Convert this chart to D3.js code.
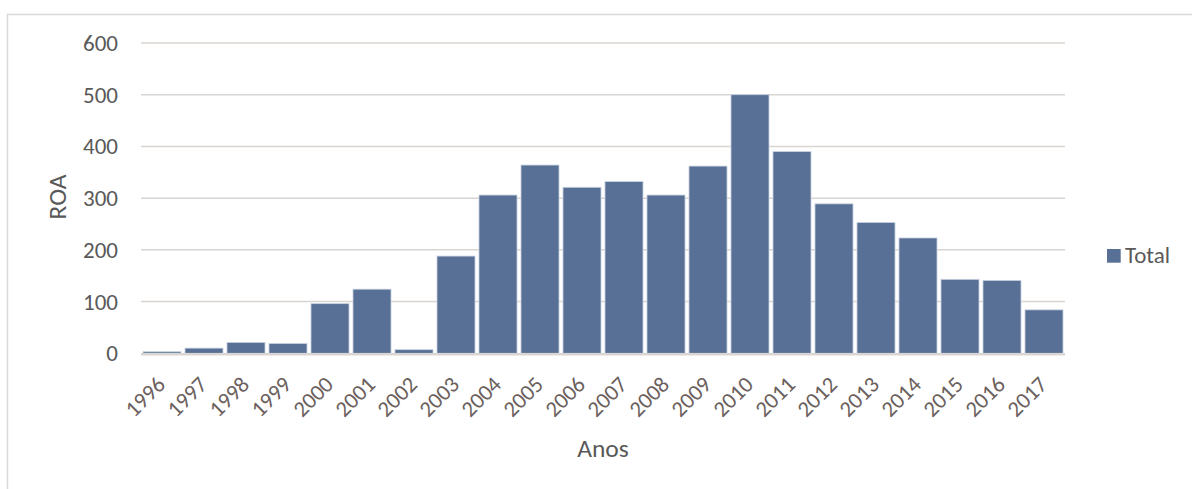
<!DOCTYPE html>
<html><head><meta charset="utf-8">
<script src="https://cdn.jsdelivr.net/npm/d3@7"></script>
<style>body{margin:0;background:#fff}svg{display:block}</style>
</head><body>
<script>
const categories = ["1996","1997","1998","1999","2000","2001","2002","2003","2004","2005","2006","2007","2008","2009","2010","2011","2012","2013","2014","2015","2016","2017"];
const totals = [3,10,21,19,96,124,7,188,306,364,321,332,306,362,500,390,289,253,223,143,141,84];
const yTicks = [0,100,200,300,400,500,600];
const seriesName = "Total";
const xTitle = "Anos", yTitle = "ROA";

const W = 1192, H = 489;
const font = "Carlito, Calibri, 'Open Sans', sans-serif";
const svg = d3.select("body").append("svg").attr("width", W).attr("height", H);

svg.append("rect").attr("x",7.5).attr("y",14.5).attr("width",1190).attr("height",480)
  .attr("fill","#fff").attr("stroke","#d9d9d9").attr("stroke-width",1.5);

const x = d3.scaleBand().domain(categories).range([141,1065]).paddingInner(0.095).paddingOuter(0.0475);
const y = d3.scaleLinear().domain([0,600]).range([353.3,43]);

// gridlines
svg.append("g").selectAll("line").data(yTicks.filter(d=>d>0)).join("line")
  .attr("x1",141).attr("x2",1065).attr("y1",d=>y(d)).attr("y2",d=>y(d))
  .attr("stroke","#d9d5d2").attr("stroke-width",1.5);

// bars
svg.append("g").selectAll("rect").data(categories).join("rect")
  .attr("x",(d)=>x(d)).attr("width",x.bandwidth())
  .attr("y",(d,i)=>y(totals[i])).attr("height",(d,i)=>y(0)-y(totals[i]))
  .attr("fill","#587096").attr("stroke","#c9d2e0").attr("stroke-width",0.8);

// axis line
svg.append("line").attr("x1",141).attr("x2",1065).attr("y1",y(0)+1).attr("y2",y(0)+1)
  .attr("stroke","#d9d5d2").attr("stroke-width",2.5);

// y tick labels
svg.append("g").selectAll("text").data(yTicks).join("text")
  .attr("x",118).attr("y",d=>y(d)).attr("dy","0.35em").attr("text-anchor","end")
  .attr("font-family",font).attr("font-size",23).attr("fill","#595959").text(d=>d);

// x tick labels
svg.append("g").selectAll("text").data(categories).join("text")
  .attr("transform",d=>`translate(${x(d)+x.bandwidth()/2-1},${y(0)+27}) rotate(-45)`)
  .attr("text-anchor","end").attr("dy","0.35em")
  .attr("font-family",font).attr("font-size",22.5).attr("fill","#6b605d").text(d=>d);

// axis titles
svg.append("text").attr("x",603).attr("y",457).attr("text-anchor","middle")
  .attr("font-family",font).attr("font-size",25.5).attr("fill","#595959").text(xTitle);
svg.append("text").attr("transform","translate(66,197) rotate(-90)").attr("text-anchor","middle")
  .attr("font-family",font).attr("font-size",25.5).attr("fill","#595959").text(yTitle);

// legend
svg.append("rect").attr("x",1107).attr("y",249).attr("width",13.7).attr("height",13.7).attr("fill","#587096");
svg.append("text").attr("x",1125).attr("y",263).attr("font-family",font).attr("font-size",23)
  .attr("fill","#595959").text(seriesName);
</script>
</body></html>
